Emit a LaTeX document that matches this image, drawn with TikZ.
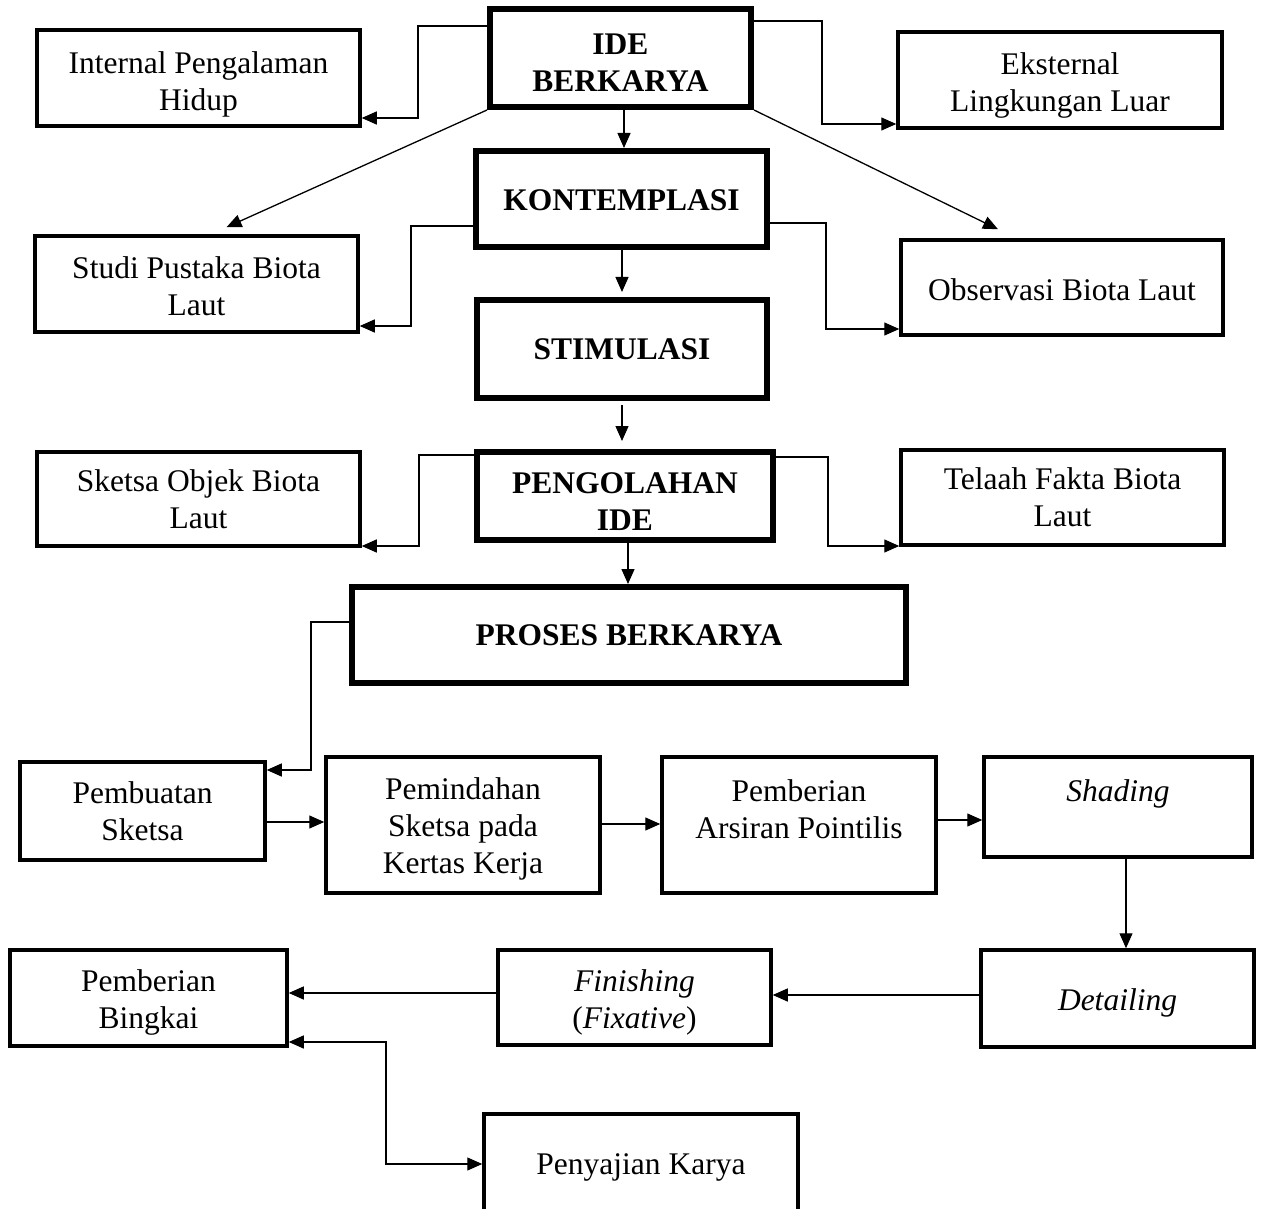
\documentclass[tikz,border=0pt]{standalone}
\usepackage{fontspec}
\setmainfont{Liberation Serif}
\usetikzlibrary{arrows.meta}
\newcommand\tsh[1]{\rule{0pt}{#1}}
\begin{document}
\begin{tikzpicture}[x=1pt,y=-1pt,
  box/.style={draw, line width=3.5pt, rectangle, inner sep=0pt, align=center,
    font=\fontsize{31.5}{37}\selectfont},
  bbox/.style={box, line width=6pt, font=\fontsize{31.5}{37}\selectfont\bfseries},
  arr/.style={line width=1.3pt, -{Triangle[length=15pt,width=13pt]}},
  arrb/.style={line width=1.3pt, {Triangle[length=15pt,width=13pt]}-{Triangle[length=15pt,width=13pt]}}]
\clip (0,0) rectangle (1262,1209);
\fill[white] (0,0) rectangle (1262,1209);

% boxes
\node[bbox, minimum width=261pt, minimum height=98pt] (ide) at (620.5,58) {\tsh{30pt}IDE\\BERKARYA};
\node[box, minimum width=323pt, minimum height=96pt] (intl) at (198.5,78) {\tsh{34pt}Internal Pengalaman\\Hidup};
\node[box, minimum width=324pt, minimum height=96pt] (ekst) at (1060,80) {\tsh{32pt}Eksternal\\Lingkungan Luar};
\node[bbox, minimum width=291pt, minimum height=96pt] (kont) at (621.5,199) {\tsh{24pt}KONTEMPLASI};
\node[box, minimum width=323pt, minimum height=96pt] (studi) at (196.5,284) {\tsh{26pt}Studi Pustaka Biota\\Laut};
\node[box, minimum width=322pt, minimum height=95pt] (obs) at (1062,287.5) {\tsh{26pt}Observasi Biota Laut};
\node[bbox, minimum width=290pt, minimum height=98pt] (stim) at (622,349) {STIMULASI};
\node[box, minimum width=323pt, minimum height=94pt] (sketsa) at (198.5,499) {Sketsa Objek Biota\\Laut};
\node[bbox, minimum width=296pt, minimum height=88pt] (peng) at (625,496) {\tsh{32pt}PENGOLAHAN\\IDE};
\node[box, minimum width=323pt, minimum height=95pt] (telaah) at (1062.5,497.5) {Telaah Fakta Biota\\Laut};
\node[bbox, minimum width=554pt, minimum height=96pt] (proses) at (629,635) {PROSES BERKARYA};
\node[box, minimum width=245pt, minimum height=98pt] (pembuatan) at (142.5,811) {Pembuatan\\Sketsa};
\node[box, minimum width=274pt, minimum height=136pt] (pemindahan) at (463,825) {\tsh{30pt}Pemindahan\\Sketsa pada\\Kertas Kerja};
\node[box, minimum width=274pt, minimum height=136pt] (arsiran) at (799,825) {\tsh{38pt}Pemberian\\Arsiran Pointilis\\\strut};
\node[box, minimum width=268pt, minimum height=100pt] (shading) at (1118,807) {\tsh{38pt}\textit{Shading}\\\strut};
\node[box, minimum width=273pt, minimum height=97pt] (detailing) at (1117.5,998.5) {\tsh{30pt}\textit{Detailing}};
\node[box, minimum width=273pt, minimum height=95pt] (finishing) at (634.5,997.5) {\tsh{32pt}\textit{Finishing}\\(\textit{Fixative})};
\node[box, minimum width=277pt, minimum height=96pt] (bingkai) at (148.5,998) {\tsh{30pt}Pemberian\\Bingkai};
\node[box, minimum width=314pt, minimum height=102pt] (penyajian) at (641,1165) {\tsh{26pt}Penyajian Karya};

% connectors
\draw[arr] (ide.west |- 0,26) -- (418,26) -- (418,118) -- (intl.east |- 0,118);
\draw[arr] (ide.east |- 0,21) -- (822,21) -- (822,124) -- (ekst.west |- 0,124);
\draw[arr] (ide.south -| 624,0) -- (kont.north -| 624,0);
\draw[arr] (ide.south west) -- ([xshift=30pt,yshift=7pt]studi.north);
\draw[arr] (ide.south east) -- ([xshift=-64pt,yshift=9pt]obs.north);
\draw[arr] (kont.west |- 0,226) -- (411,226) -- (411,326) -- (studi.east |- 0,326);
\draw[arr] (kont.east |- 0,223) -- (826,223) -- (826,329) -- (obs.west |- 0,329);
\draw[arr, shorten >=5pt] (kont.south -| 622,0) -- (stim.north -| 622,0);
\draw[arr, shorten <=4pt, shorten >=8pt] (stim.south) -- (stim.south |- peng.north);
\draw[arr] (peng.west |- 0,455) -- (419,455) -- (419,546) -- (sketsa.east |- 0,546);
\draw[arr] (peng.east |- 0,457) -- (828,457) -- (828,546) -- (telaah.west |- 0,546);
\draw[arr] (peng.south -| 628,0) -- (proses.north -| 628,0);
\draw[arr] (proses.west |- 0,622) -- (311,622) -- (311,770) -- (pembuatan.east |- 0,770);
\draw[arr] (pembuatan.east |- 0,822) -- (pemindahan.west |- 0,822);
\draw[arr] (pemindahan.east |- 0,824) -- (arsiran.west |- 0,824);
\draw[arr] (arsiran.east |- 0,820) -- (shading.west |- 0,820);
\draw[arr] (shading.south -| 1126,0) -- (detailing.north -| 1126,0);
\draw[arr] (detailing.west |- 0,995) -- (finishing.east |- 0,995);
\draw[arr] (finishing.west |- 0,993) -- (bingkai.east |- 0,993);
\draw[arrb] (bingkai.east |- 0,1042) -- (386,1042) -- (386,1164) -- (penyajian.west |- 0,1164);
\end{tikzpicture}
\end{document}
